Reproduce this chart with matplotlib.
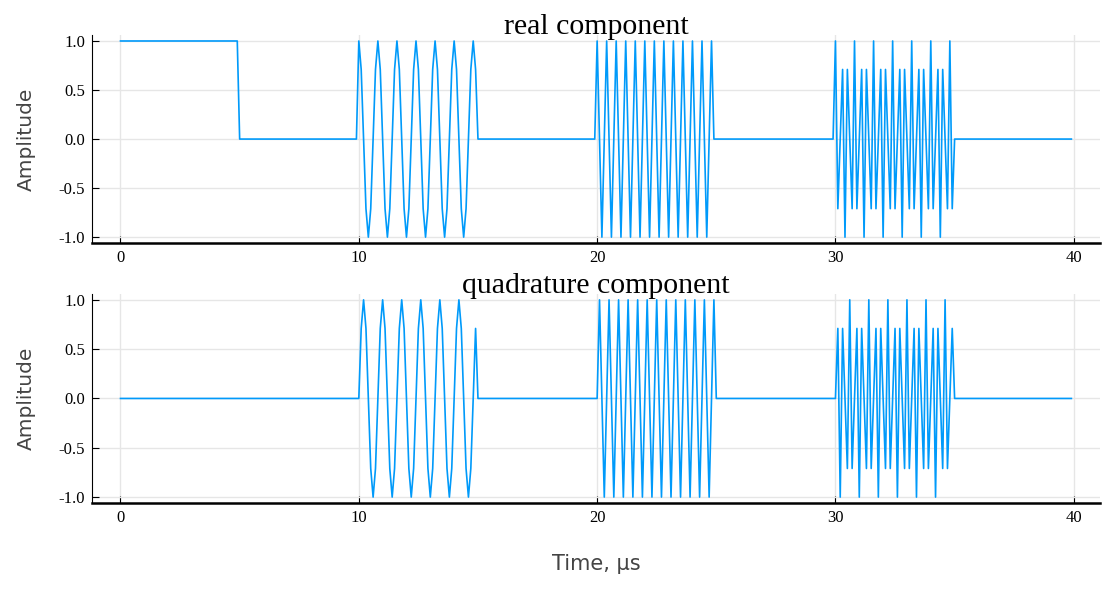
import numpy as np
import matplotlib
matplotlib.use("Agg")
import matplotlib.pyplot as plt

# sampled signal, 0.1 us per sample, 400 samples (0 .. 39.9 us)
sample_step = 0.1

# pulse 0-5 us, then gap
pulse_re = [1.0] * 50
pulse_im = [0.0] * 50
gap = [0.0] * 50

# burst at 10-15 us (8 samples per cycle)
burst1_re = [1, .71, 0, -.71, -1, -.71, 0, .71,
             1, .71, 0, -.71, -1, -.71, 0, .71,
             1, .71, 0, -.71, -1, -.71, 0, .71,
             1, .71, 0, -.71, -1, -.71, 0, .71,
             1, .71, 0, -.71, -1, -.71, 0, .71,
             1, .71, 0, -.71, -1, -.71, 0, .71,
             1, .71]
burst1_im = [0, .71, 1, .71, 0, -.71, -1, -.71,
             0, .71, 1, .71, 0, -.71, -1, -.71,
             0, .71, 1, .71, 0, -.71, -1, -.71,
             0, .71, 1, .71, 0, -.71, -1, -.71,
             0, .71, 1, .71, 0, -.71, -1, -.71,
             0, .71, 1, .71, 0, -.71, -1, -.71,
             0, .71]

# burst at 20-25 us (4 samples per cycle)
burst2_re = [1, 0, -1, 0, 1, 0, -1, 0, 1, 0, -1, 0, 1, 0, -1, 0,
             1, 0, -1, 0, 1, 0, -1, 0, 1, 0, -1, 0, 1, 0, -1, 0,
             1, 0, -1, 0, 1, 0, -1, 0, 1, 0, -1, 0, 1, 0, -1, 0,
             1, 0]
burst2_im = [0, 1, 0, -1, 0, 1, 0, -1, 0, 1, 0, -1, 0, 1, 0, -1,
             0, 1, 0, -1, 0, 1, 0, -1, 0, 1, 0, -1, 0, 1, 0, -1,
             0, 1, 0, -1, 0, 1, 0, -1, 0, 1, 0, -1, 0, 1, 0, -1,
             0, 1]

# burst at 30-35 us (3 cycles per 8 samples)
burst3_re = [1, -.71, 0, .71, -1, .71, 0, -.71,
             1, -.71, 0, .71, -1, .71, 0, -.71,
             1, -.71, 0, .71, -1, .71, 0, -.71,
             1, -.71, 0, .71, -1, .71, 0, -.71,
             1, -.71, 0, .71, -1, .71, 0, -.71,
             1, -.71, 0, .71, -1, .71, 0, -.71,
             1, -.71]
burst3_im = [0, .71, -1, .71, 0, -.71, 1, -.71,
             0, .71, -1, .71, 0, -.71, 1, -.71,
             0, .71, -1, .71, 0, -.71, 1, -.71,
             0, .71, -1, .71, 0, -.71, 1, -.71,
             0, .71, -1, .71, 0, -.71, 1, -.71,
             0, .71, -1, .71, 0, -.71, 1, -.71,
             0, .71]

real_part = np.array(pulse_re + gap + burst1_re + gap + burst2_re + gap + burst3_re + gap)
quad_part = np.array(pulse_im + gap + burst1_im + gap + burst2_im + gap + burst3_im + gap)
time_us = np.arange(len(real_part)) * sample_step

x_ticks = [0, 10, 20, 30, 40]
y_ticks = [-1.0, -0.5, 0.0, 0.5, 1.0]
titles = ["real component", "quadrature component"]

plt.rcParams["axes.unicode_minus"] = False
line_color = "#009AFA"
grid_color = "#e6e6e6"
label_color = "#444444"

fig = plt.figure(figsize=(11.04, 5.89), dpi=100)
ax_top = fig.add_axes([0.0833, 0.5874, 0.913, 0.353])
ax_bot = fig.add_axes([0.0833, 0.146, 0.913, 0.355])

pad_x = 0.03 * (time_us[-1] - time_us[0])
for ax, values, title in zip([ax_top, ax_bot], [real_part, quad_part], titles):
    ax.plot(time_us, values, color=line_color, linewidth=1.2)
    ax.set_xlim(time_us[0] - pad_x, time_us[-1] + pad_x)
    ax.set_ylim(-1.06, 1.06)
    ax.set_xticks(x_ticks)
    ax.set_yticks(y_ticks)
    ax.set_xticklabels([str(t) for t in x_ticks], family="Liberation Serif", fontsize=12)
    ax.set_yticklabels([f"{v:.1f}" for v in y_ticks], family="Liberation Serif", fontsize=12)
    ax.grid(True, color=grid_color, linewidth=1)
    ax.set_axisbelow(True)
    for side in ["top", "right"]:
        ax.spines[side].set_visible(False)
    ax.spines["left"].set_linewidth(0.8)
    ax.spines["bottom"].set_linewidth(1.8)
    ax.tick_params(direction="in", length=5, width=0.8, colors="black", pad=5)
    ax.set_ylabel("Amplitude", family="DejaVu Sans", fontsize=14.5, color=label_color, labelpad=16)
    ax.set_title(title, family="Liberation Serif", fontsize=21.5, pad=1, y=1.0)

ax_bot.set_xlabel("Time, μs", family="DejaVu Sans", fontsize=15, color=label_color, labelpad=20)

fig.savefig("out.png", dpi=100)
